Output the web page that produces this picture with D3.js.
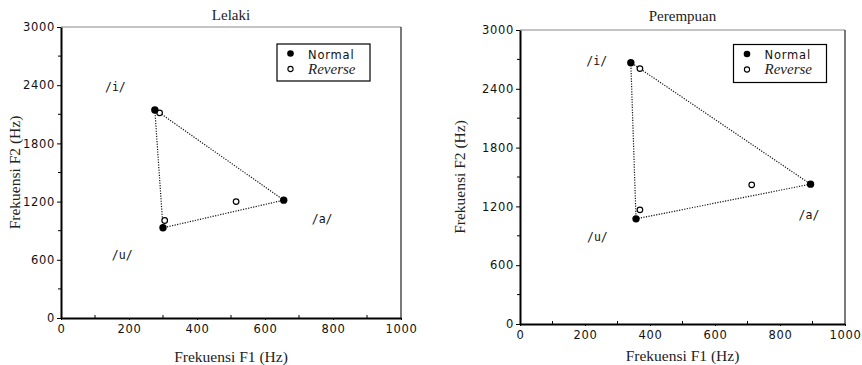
<!DOCTYPE html>
<html>
<head>
<meta charset="utf-8">
<script src="https://cdn.jsdelivr.net/npm/d3@7"></script>
<style>
  body { margin: 0; background: #fff; }
  svg { display: block; }
  .tick text { font-family: "DejaVu Sans", sans-serif; font-size: 11.5px; letter-spacing: 0.7px; fill: #111; }
</style>
</head>
<body>
<svg width="862" height="365"></svg>
<script>
var svg = d3.select("svg");

// vowels in order i, u, a
var vowels = ["/i/", "/u/", "/a/"];

// Lelaki (male)
var maleNormalF1 = [276, 300, 655];
var maleNormalF2 = [2145, 930, 1215];
var maleReverseF1 = [290, 305, 515];
var maleReverseF2 = [2115, 1005, 1200];
var maleLabelF1 = [160, 180, 768];
var maleLabelF2 = [2385, 650, 1020];

// Perempuan (female)
var femaleNormalF1 = [341, 357, 894];
var femaleNormalF2 = [2667, 1073, 1427];
var femaleReverseF1 = [369, 369, 713];
var femaleReverseF2 = [2606, 1165, 1420];
var femaleLabelF1 = [236, 238, 889];
var femaleLabelF2 = [2680, 890, 1115];

var xTicks = [0, 200, 400, 600, 800, 1000];
var yTicks = [0, 600, 1200, 1800, 2400, 3000];

function zip(a, b) { return a.map(function(d, i) { return [d, b[i]]; }); }

function drawPanel(opt) {
  var x = d3.scaleLinear().domain([0, 1000]).range([opt.left, opt.right]);
  var y = d3.scaleLinear().domain([0, 3000]).range([opt.bottom, opt.top]);
  var g = svg.append("g");

  // frame: top thin grey, right thin black
  g.append("line").attr("x1", x(0)).attr("x2", x(1000)).attr("y1", y(3000)).attr("y2", y(3000))
    .attr("stroke", "#888").attr("stroke-width", 1);
  g.append("line").attr("x1", x(1000)).attr("x2", x(1000)).attr("y1", y(3000)).attr("y2", y(0))
    .attr("stroke", "#222").attr("stroke-width", 1.2);

  // minor ticks
  g.append("g").selectAll("line").data(d3.range(100, 1000, 200)).enter().append("line")
    .attr("x1", function(d) { return x(d); }).attr("x2", function(d) { return x(d); })
    .attr("y1", y(0)).attr("y2", y(0) - 3).attr("stroke", "#000");
  g.append("g").selectAll("line").data(d3.range(300, 3000, 600)).enter().append("line")
    .attr("y1", function(d) { return y(d); }).attr("y2", function(d) { return y(d); })
    .attr("x1", x(0)).attr("x2", x(0) - 3).attr("stroke", "#000");

  var xAxis = g.append("g").attr("transform", "translate(0," + y(0) + ")")
    .call(d3.axisBottom(x).tickValues(xTicks).tickFormat(d3.format("d"))
      .tickSize(2).tickPadding(5).tickSizeOuter(0));
  var yAxis = g.append("g").attr("transform", "translate(" + x(0) + ",0)")
    .call(d3.axisLeft(y).tickValues(yTicks).tickFormat(d3.format("d"))
      .tickSize(4).tickPadding(2).tickSizeOuter(0));
  xAxis.select(".domain").attr("stroke-width", 2);
  yAxis.select(".domain").attr("stroke-width", 2);

  // titles
  var serif = "Liberation Serif, Times New Roman, serif";
  g.append("text").attr("x", (x(0) + x(1000)) / 2).attr("y", opt.titleY)
    .attr("text-anchor", "middle").attr("font-family", serif)
    .attr("font-size", 15).attr("fill", "#222").text(opt.title);
  g.append("text").attr("x", (x(0) + x(1000)) / 2).attr("y", opt.xLabelY)
    .attr("text-anchor", "middle").attr("font-family", serif)
    .attr("font-size", 15.5).attr("fill", "#222").text("Frekuensi F1 (Hz)");
  g.append("text").attr("transform", "translate(" + opt.yLabelX + "," + (y(0) + y(3000)) / 2 + ") rotate(-90)")
    .attr("text-anchor", "middle").attr("font-family", serif)
    .attr("font-size", 15.5).attr("fill", "#222").text("Frekuensi F2 (Hz)");

  var normal = zip(opt.nF1, opt.nF2);
  var reverse = zip(opt.rF1, opt.rF2);

  // dotted triangle
  var path = [normal[0], normal[1], normal[2], reverse[0], normal[0]];
  g.append("path").datum(path)
    .attr("d", d3.line().x(function(d) { return x(d[0]); }).y(function(d) { return y(d[1]); }))
    .attr("fill", "none").attr("stroke", "#111").attr("stroke-width", 1.2)
    .attr("stroke-dasharray", "1.2,1.4");

  g.append("g").selectAll("circle").data(reverse).enter().append("circle")
    .attr("cx", function(d) { return x(d[0]); }).attr("cy", function(d) { return y(d[1]); })
    .attr("r", 2.8).attr("fill", "#fff").attr("stroke", "#000").attr("stroke-width", 1.2);
  g.append("g").selectAll("circle").data(normal).enter().append("circle")
    .attr("cx", function(d) { return x(d[0]); }).attr("cy", function(d) { return y(d[1]); })
    .attr("r", 3.7).attr("fill", "#000");

  // vowel labels
  g.append("g").selectAll("text").data(zip(opt.lF1, opt.lF2)).enter().append("text")
    .attr("x", function(d) { return x(d[0]); }).attr("y", function(d) { return y(d[1]); })
    .attr("dy", "0.35em").attr("text-anchor", "middle")
    .attr("font-family", "DejaVu Sans Mono, monospace").attr("font-size", 11.5)
    .attr("fill", "#111")
    .text(function(d, i) { return vowels[i]; });

  // legend
  var lx = x(1000) - opt.legendRight, ly = y(3000) + opt.legendTop;
  var lg = g.append("g").attr("transform", "translate(" + lx + "," + ly + ")");
  lg.append("rect").attr("width", 93).attr("height", opt.legendH).attr("fill", "#fff")
    .attr("stroke", "#000").attr("stroke-width", 1.2);
  lg.append("circle").attr("cx", 13.5).attr("cy", 9.5).attr("r", 3.3).attr("fill", "#000");
  lg.append("circle").attr("cx", 13.5).attr("cy", 25).attr("r", 2.6).attr("fill", "#fff")
    .attr("stroke", "#000").attr("stroke-width", 1.1);
  lg.append("text").attr("x", 31).attr("y", 14.5).attr("font-family", "DejaVu Sans, sans-serif")
    .attr("font-size", 11.5).attr("letter-spacing", 0.8).attr("fill", "#111").text("Normal");
  lg.append("text").attr("x", 31).attr("y", 29.5).attr("font-family", serif)
    .attr("font-style", "italic").attr("font-size", 15).attr("fill", "#222").text("Reverse");
}

drawPanel({
  title: "Lelaki", left: 61, right: 401, top: 27, bottom: 318,
  titleY: 19.5, xLabelY: 362, yLabelX: 20, legendRight: 124, legendTop: 17, legendH: 37,
  nF1: maleNormalF1, nF2: maleNormalF2, rF1: maleReverseF1, rF2: maleReverseF2,
  lF1: maleLabelF1, lF2: maleLabelF2
});
drawPanel({
  title: "Perempuan", left: 520, right: 845, top: 30, bottom: 324,
  titleY: 21, xLabelY: 361, yLabelX: 465, legendRight: 111.5, legendTop: 14.5, legendH: 38,
  nF1: femaleNormalF1, nF2: femaleNormalF2, rF1: femaleReverseF1, rF2: femaleReverseF2,
  lF1: femaleLabelF1, lF2: femaleLabelF2
});
</script>
</body>
</html>
